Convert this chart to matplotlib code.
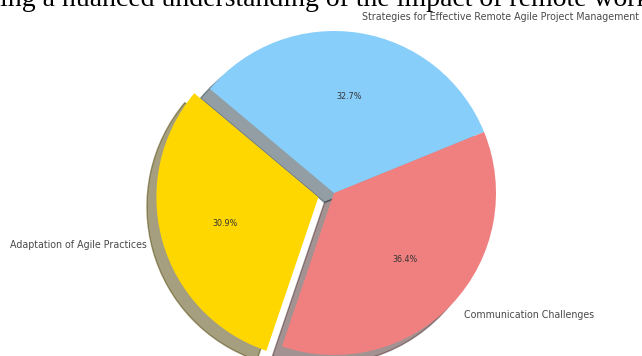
import matplotlib
matplotlib.use("Agg")
import matplotlib.pyplot as plt

# survey responses per theme
labels = [
    "Adaptation of Agile Practices",
    "Communication Challenges",
    "Strategies for Effective Remote Agile Project Management",
]
counts = [17, 20, 18]
colors = ["gold", "lightcoral", "lightskyblue"]
explode = (0.1, 0, 0)

W, H = 642, 356
cx, cy, r = 334, 193, 162  # pie centre and radius in pixels

fig = plt.figure(figsize=(W / 100, H / 100), dpi=100)
ax = fig.add_axes([0, 0, 1, 1])

wedges, texts, autotexts = ax.pie(
    counts,
    labels=labels,
    colors=colors,
    explode=explode,
    autopct="%1.1f%%",
    shadow={"ox": -0.042, "oy": -0.042},
    startangle=140,
    textprops={"fontsize": 6.85, "color": "#4a4a4a"},
)
for t in autotexts:
    t.set_fontsize(5.8)
    t.set_color("#333333")

ax.set_xlim(-cx / r, (W - cx) / r)
ax.set_ylim(-(H - cy) / r, cy / r)
ax.set_aspect("equal")
ax.set_axis_off()

# line of body text above the figure
fig.text(0.0, 1 - 6 / H, "ing a nuanced understanding of the impact of remote work",
         fontsize=20, family="Liberation Serif", va="baseline", ha="left")

fig.savefig("out.png", dpi=100)
